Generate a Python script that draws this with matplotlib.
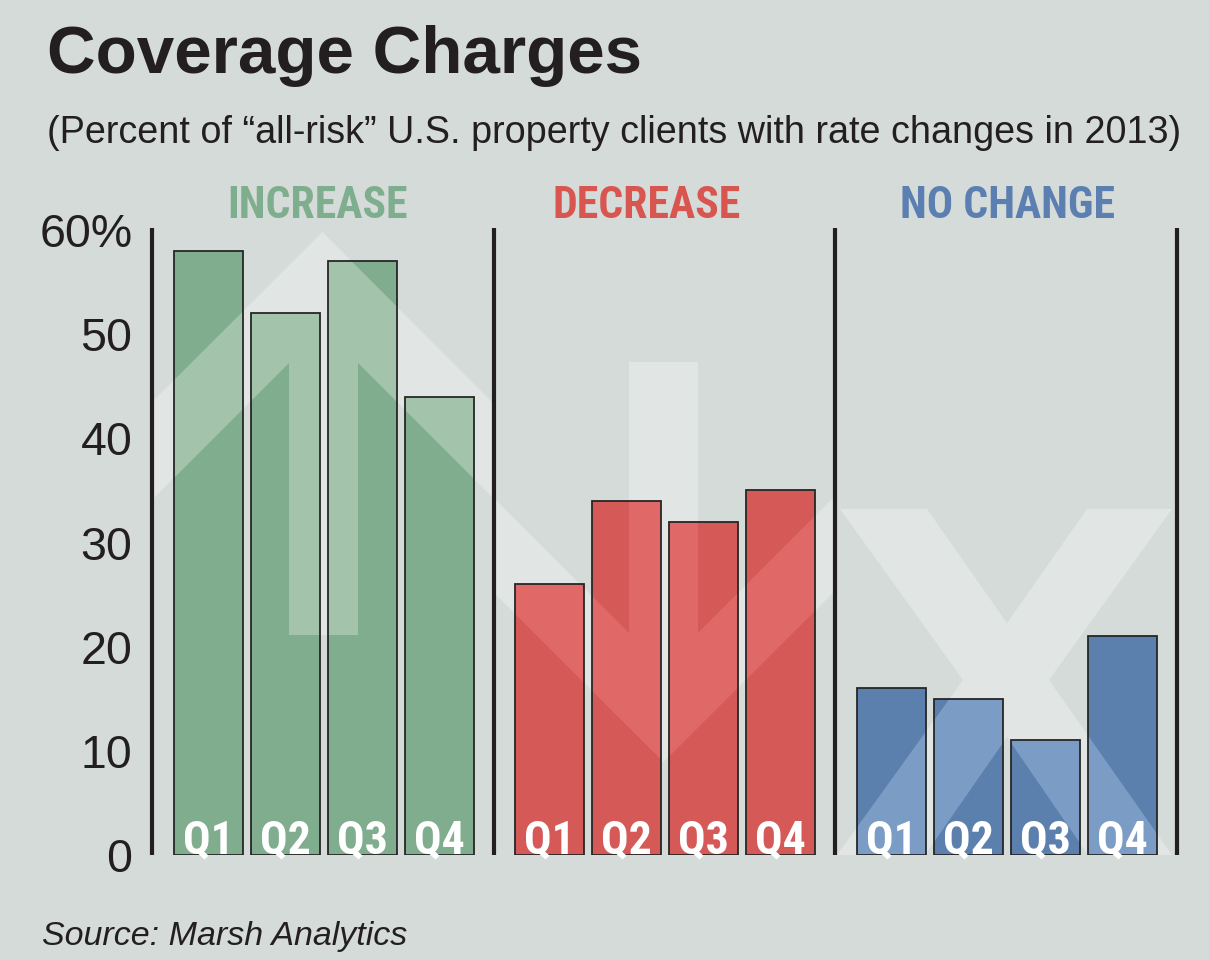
import matplotlib.pyplot as plt
from matplotlib.patches import Polygon
from matplotlib import font_manager

# data
groups = ['INCREASE', 'DECREASE', 'NO CHANGE']
quarters = ['Q1', 'Q2', 'Q3', 'Q4']
increase = [58, 52, 57, 44]
decrease = [26, 34, 32, 35]
no_change = [16, 15, 11, 21]
y_ticks = [0, 10, 20, 30, 40, 50, 60]
y_labels = ['0', '10', '20', '30', '40', '50', '60%']

BG = '#d5dbd8'
BG_LIGHT = '#e1e5e3'
INK = '#231f20'
bar_colors = ['#80ad8e', '#d55a57', '#5b80ae']
bar_light = ['#a4c3ab', '#e06866', '#7b9cc4']
head_colors = ['#7fae8f', '#d9554f', '#5a7fb0']

# pick a narrow face for the condensed labels if one is installed
names = {f.name for f in font_manager.fontManager.ttflist}
narrow, stretch = 'Liberation Sans', 'normal'
for n in ['Liberation Sans Narrow', 'Roboto Condensed', 'Open Sans Condensed']:
    if n in names:
        narrow, stretch = n, 'normal'
        break
else:
    if any(f.name == 'DejaVu Sans' and f.stretch == 'condensed' for f in font_manager.fontManager.ttflist):
        narrow, stretch = 'DejaVu Sans', 'condensed'

plt.rcParams['font.family'] = ['Liberation Sans', 'DejaVu Sans']

W, H = 1209, 960
fig = plt.figure(figsize=(W / 100, H / 100), dpi=100, facecolor=BG)
# plot area: x 152..1177 px, y 230..855 px
ax = fig.add_axes([152 / W, (H - 855) / H, 1025 / W, 625 / H])
ax.set_facecolor(BG)
ax.set_xlim(0, 1025)
ax.set_ylim(0, 60)


def px(x, y):
    # reference pixel -> data coords (for the decorative watermark shapes)
    return (x - 152, (855 - y) * 60 / 625)


# watermark shapes: up arrow, down arrow, cross (one per panel)
up_arrow = [(322.5, 232), (492, 402), (492, 497), (358, 363), (358, 635),
            (289, 635), (289, 363), (152, 500), (152, 402)]
down_arrow = [(629, 362), (698, 362), (698, 633), (835, 496), (835, 591),
              (663.5, 762), (493, 592), (493, 497), (629, 633)]
cross = [(840, 509), (927, 509), (1007, 623), (1087, 509), (1172, 509),
         (1049, 680), (1172, 855), (1088, 855), (1007, 737), (925, 855),
         (837, 855), (963, 680)]
shapes = [up_arrow, down_arrow, cross]

GROUP_W = 341.67
BAR_OFF = 21.5
BAR_STEP = 77
BAR_W = 69

series = [increase, decrease, no_change]
for g, vals in enumerate(series):
    verts = [px(*p) for p in shapes[g]]
    ax.add_patch(Polygon(verts, closed=True, facecolor=BG_LIGHT, edgecolor='none', zorder=0.5))

    lefts = [g * GROUP_W + BAR_OFF + i * BAR_STEP for i in range(len(vals))]
    bars = ax.bar(lefts, vals, width=BAR_W, align='edge', color=bar_colors[g],
                  edgecolor='none', zorder=1)
    for rect in bars:
        tint = Polygon(verts, closed=True, facecolor=bar_light[g], edgecolor='none', zorder=2)
        ax.add_patch(tint)
        tint.set_clip_path(rect)
    ax.bar(lefts, vals, width=BAR_W, align='edge', fill=False,
           edgecolor='#262626', linewidth=1.3, zorder=3)
    for x, q in zip(lefts, quarters):
        ax.text(x + BAR_W / 2, 0.15, q, ha='center', va='baseline', color='white',
                fontsize=33, fontweight='bold', family=narrow, fontstretch=stretch,
                zorder=4)

# panel dividers
ax.vlines([g * GROUP_W for g in range(4)], 0, 60.2, color=INK, linewidth=3,
          clip_on=False, zorder=5)

head_x = [166, 495, 856]
for g, name in enumerate(groups):
    ax.text(head_x[g], 61.2, name, ha='center', va='baseline', color=head_colors[g],
            fontsize=31.5, fontweight='bold', family=narrow, fontstretch=stretch,
            clip_on=False)

ax.set_yticks(y_ticks)
ax.set_yticklabels(y_labels, fontsize=33.5, color=INK)
ax.set_xticks([])
ax.tick_params(axis='y', length=0, pad=14)
for s in ax.spines.values():
    s.set_visible(False)

fig.text(47 / W, 1 - 73 / H, 'Coverage Charges', fontsize=48.5, fontweight='bold',
         color=INK, va='baseline', ha='left')
fig.text(47 / W, 1 - 143 / H,
         '(Percent of \u201call-risk\u201d U.S. property clients with rate changes in 2013)',
         fontsize=27.2, color=INK, va='baseline', ha='left')
fig.text(42 / W, 1 - 945 / H, 'Source: Marsh Analytics', fontsize=24.5, style='italic',
         color=INK, va='baseline', ha='left')

fig.savefig('out.png', dpi=100, facecolor=BG)
